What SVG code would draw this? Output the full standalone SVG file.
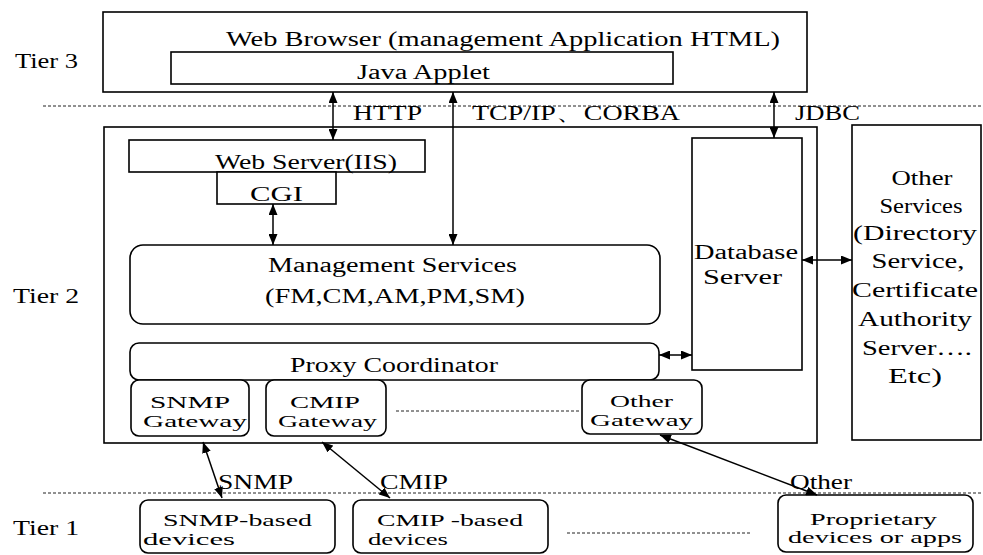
<svg xmlns="http://www.w3.org/2000/svg" width="983" height="555" viewBox="0 0 983 555">
<style>
text{font-family:"Liberation Serif","DejaVu Serif","Times New Roman",serif;font-size:20px;fill:#000}
.s{font-size:17px}
.box{fill:#fff;stroke:#000;stroke-width:1.6}
.dot{fill:none;stroke:#222;stroke-width:1;stroke-dasharray:3 2}
.arr{fill:none;stroke:#000;stroke-width:1.5;marker-start:url(#ah);marker-end:url(#ah)}
.m{text-anchor:middle}
</style>
<defs>
<marker id="ah" viewBox="0 0 11 9" refX="11" refY="4.5" markerWidth="11" markerHeight="9" markerUnits="userSpaceOnUse" orient="auto-start-reverse">
<path d="M0,0 L11,4.5 L0,9 Z" fill="#000"/>
</marker>
</defs>
<rect width="983" height="555" fill="#fff"/>

<g id="tiers">
<line class="dot" x1="43" y1="106" x2="983" y2="106"/>
<line class="dot" x1="43" y1="493" x2="983" y2="493"/>
<text x="15" y="68" textLength="63" lengthAdjust="spacingAndGlyphs">Tier 3</text>
<text x="13" y="303" textLength="66" lengthAdjust="spacingAndGlyphs">Tier 2</text>
<text x="13" y="535" textLength="66" lengthAdjust="spacingAndGlyphs">Tier 1</text>
</g>

<g id="web-browser">
<rect class="box" x="103" y="12" width="704" height="80"/>
<text x="226" y="46" textLength="554" lengthAdjust="spacingAndGlyphs">Web Browser (management Application HTML)</text>
</g>
<g id="java-applet">
<rect class="box" x="171" y="52" width="502" height="32"/>
<text x="357" y="79" textLength="133" lengthAdjust="spacingAndGlyphs">Java Applet</text>
</g>

<g id="tier2-box">
<rect class="box" x="104" y="127" width="713" height="316" fill="none"/>
</g>

<g id="other-services">
<rect class="box" x="852" y="125" width="129" height="315"/>
<text class="m" x="922" y="185" textLength="61" lengthAdjust="spacingAndGlyphs">Other</text>
<text class="m" x="921" y="213" textLength="83" lengthAdjust="spacingAndGlyphs">Services</text>
<text class="m" x="915" y="240" textLength="124" lengthAdjust="spacingAndGlyphs">(Directory</text>
<text class="m" x="918" y="268" textLength="93" lengthAdjust="spacingAndGlyphs">Service,</text>
<text class="m" x="915" y="297" textLength="126" lengthAdjust="spacingAndGlyphs">Certificate</text>
<text class="m" x="915" y="326" textLength="114" lengthAdjust="spacingAndGlyphs">Authority</text>
<text class="m" x="917" y="355" textLength="110" lengthAdjust="spacingAndGlyphs">Server….</text>
<text class="m" x="915" y="383" textLength="54" lengthAdjust="spacingAndGlyphs">Etc)</text>
</g>

<g id="web-server">
<rect class="box" x="129" y="140" width="296" height="32"/>
<text x="215" y="169" textLength="182" lengthAdjust="spacingAndGlyphs">Web Server(IIS)</text>
</g>
<g id="cgi">
<rect class="box" x="217" y="172" width="119" height="32"/>
<text x="250" y="201" textLength="53" lengthAdjust="spacingAndGlyphs">CGI</text>
</g>

<g id="management-services">
<rect class="box" x="130" y="245" width="530" height="79" rx="13"/>
<text x="268" y="272" textLength="249" lengthAdjust="spacingAndGlyphs">Management Services</text>
<text x="265" y="303" textLength="260" lengthAdjust="spacingAndGlyphs">(FM,CM,AM,PM,SM)</text>
</g>

<g id="database-server">
<rect class="box" x="692" y="138" width="110" height="232"/>
<text x="694" y="259" textLength="104" lengthAdjust="spacingAndGlyphs">Database</text>
<text x="703" y="284" textLength="79" lengthAdjust="spacingAndGlyphs">Server</text>
</g>

<g id="proxy-coordinator">
<rect class="box" x="130" y="343" width="529" height="37" rx="9"/>
<text x="290" y="372" textLength="208" lengthAdjust="spacingAndGlyphs">Proxy Coordinator</text>
</g>

<g id="snmp-gateway">
<rect class="box" x="131" y="380" width="118" height="56" rx="8"/>
<text class="s" x="150" y="408" textLength="80" lengthAdjust="spacingAndGlyphs">SNMP</text>
<text class="s" x="143" y="427" textLength="104" lengthAdjust="spacingAndGlyphs">Gateway</text>
</g>
<g id="cmip-gateway">
<rect class="box" x="266" y="380" width="120" height="56" rx="8"/>
<text class="s" x="290" y="408" textLength="70" lengthAdjust="spacingAndGlyphs">CMIP</text>
<text class="s" x="278" y="427" textLength="99" lengthAdjust="spacingAndGlyphs">Gateway</text>
</g>
<g id="other-gateway">
<rect class="box" x="582" y="380" width="120" height="54" rx="8"/>
<text class="s" x="610" y="407" textLength="63" lengthAdjust="spacingAndGlyphs">Other</text>
<text class="s" x="590" y="426" textLength="103" lengthAdjust="spacingAndGlyphs">Gateway</text>
</g>

<g id="snmp-devices">
<rect class="box" x="140" y="500" width="195" height="53" rx="8"/>
<text class="s" x="163" y="526" textLength="149" lengthAdjust="spacingAndGlyphs">SNMP-based</text>
<text class="s" x="143" y="545" textLength="92" lengthAdjust="spacingAndGlyphs">devices</text>
</g>
<g id="cmip-devices">
<rect class="box" x="353" y="500" width="195" height="53" rx="8"/>
<text class="s" x="377" y="526" textLength="146" lengthAdjust="spacingAndGlyphs">CMIP -based</text>
<text class="s" x="368" y="545" textLength="80" lengthAdjust="spacingAndGlyphs">devices</text>
</g>
<g id="proprietary-devices">
<rect class="box" x="778" y="495" width="195" height="57" rx="8"/>
<text class="s" x="810" y="525" textLength="127" lengthAdjust="spacingAndGlyphs">Proprietary</text>
<text class="s" x="788" y="543" textLength="174" lengthAdjust="spacingAndGlyphs">devices or apps</text>
</g>

<g id="connectors">
<line class="arr" x1="333" y1="92" x2="333" y2="140"/>
<line class="arr" x1="453" y1="92" x2="453" y2="245"/>
<line class="arr" x1="774" y1="92" x2="774" y2="138"/>
<line class="arr" x1="273" y1="204" x2="273" y2="245"/>
<line class="arr" x1="802" y1="260" x2="852" y2="260"/>
<line class="arr" x1="659" y1="355" x2="692" y2="355"/>
<line class="arr" x1="203" y1="442" x2="222" y2="498"/>
<line class="arr" x1="322" y1="442" x2="390" y2="498"/>
<line class="arr" x1="660" y1="435" x2="817" y2="495"/>
<line class="dot" x1="396" y1="411" x2="580" y2="411"/>
<line class="dot" x1="567" y1="533" x2="750" y2="533"/>
<text x="353" y="120" textLength="69" lengthAdjust="spacingAndGlyphs">HTTP</text>
<text x="472" y="120" textLength="208" lengthAdjust="spacingAndGlyphs">TCP/IP、CORBA</text>
<text x="795" y="120" textLength="65" lengthAdjust="spacingAndGlyphs">JDBC</text>
<text x="218" y="489" textLength="75" lengthAdjust="spacingAndGlyphs">SNMP</text>
<text x="380" y="489" textLength="68" lengthAdjust="spacingAndGlyphs">CMIP</text>
<text x="790" y="489" textLength="62" lengthAdjust="spacingAndGlyphs">Other</text>
</g>
</svg>
